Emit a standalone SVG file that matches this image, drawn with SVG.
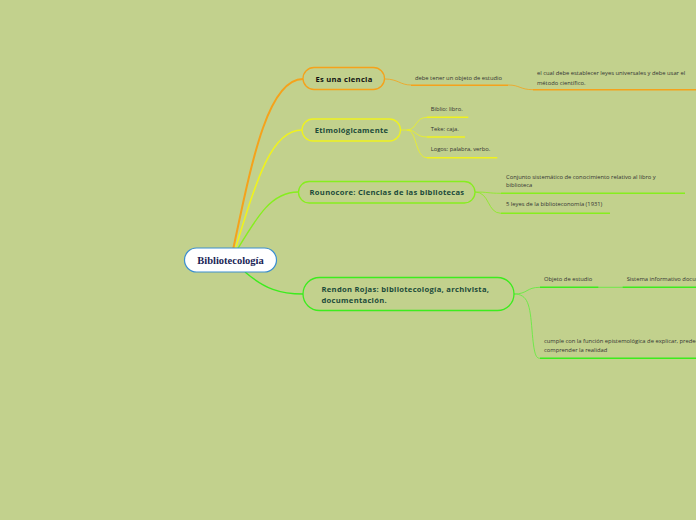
<svg xmlns="http://www.w3.org/2000/svg" width="696" height="520" viewBox="0 0 696 520">
<style>
.bg{fill:#C2D18D}
.main{fill:#C2D18D;stroke-width:1.3}
.lbl{font-family:"Open Sans","Noto Sans",sans-serif;font-weight:bold;font-size:7.6px;fill:#1B4A3A;letter-spacing:0.3px}
.sm{font-family:"Open Sans","Noto Sans",sans-serif;font-size:5.8px;fill:#333333}
.con{fill:none}
</style>
<rect class="bg" x="0" y="0" width="696" height="520"/>
<g id="connectors">
  <path class="con" d="M233,250 C252,160 268,79 303,79" stroke="#F5A21B" stroke-width="2"/>
  <path class="con" d="M235,250 C258,175 272,130 302,130" stroke="#EFF21E" stroke-width="1.6"/>
  <path class="con" d="M237,250 C258,215 272,192 298,192" stroke="#86EE1E" stroke-width="1.4"/>
  <path class="con" d="M245,272 C265,289 280,294 303,294" stroke="#3CEC1E" stroke-width="1.4"/>
  <path class="con" d="M385,79 C398,79 400,85 411,85" stroke="#F5A21B" stroke-width="0.8"/>
  <path class="con" d="M508,85 C520,85 520,89.7 533,89.7" stroke="#F5A21B" stroke-width="0.8"/>
  <path class="con" d="M401,130 L407,130 C417,130 415,117.3 427,117.3" stroke="#EFF21E" stroke-width="0.8"/>
  <path class="con" d="M407,130 C417,130 415,137 427,137" stroke="#EFF21E" stroke-width="0.8"/>
  <path class="con" d="M407,130 C417,130 415,157.7 427,157.7" stroke="#EFF21E" stroke-width="0.8"/>
  <path class="con" d="M475,192 C488,192 488,193.3 501,193.3" stroke="#86EE1E" stroke-width="0.8"/>
  <path class="con" d="M475,192 C490,192 487,213.3 501,213.3" stroke="#86EE1E" stroke-width="0.8"/>
  <path class="con" d="M514,294 C528,294 526,287.3 540,287.3" stroke="#5CEE3A" stroke-width="0.8"/>
  <path class="con" d="M598,287.3 L623,287.3" stroke="#5CEE3A" stroke-width="0.8"/>
  <path class="con" d="M514,294 C528,294 530,305 532,330 C534,355 536,358.3 540,358.3" stroke="#5CEE3A" stroke-width="0.8"/>
</g>
<g id="n-central">
  <rect x="184.5" y="248" width="92" height="24" rx="12" fill="#FFFFFF" stroke="#3C8FD0" stroke-width="1.2"/>
  <text x="230.5" y="263.5" text-anchor="middle" font-family="'Liberation Serif',serif" font-weight="bold" font-size="10.5px" fill="#1A2456">Bibliotecología</text>
</g>
<g id="n-ciencia">
  <rect class="main" x="303" y="67.5" width="81.5" height="22" rx="11" stroke="#F5A21B"/>
  <text class="lbl" x="344" y="81.5" text-anchor="middle" style="fill:#111">Es una ciencia</text>
</g>
<g id="n-etim">
  <rect class="main" x="302" y="119" width="98.5" height="22" rx="11" stroke="#EFF21E"/>
  <text class="lbl" x="351.5" y="133" text-anchor="middle">Etimológicamente</text>
</g>
<g id="n-rounocore">
  <rect class="main" x="298.5" y="181.5" width="176.5" height="21.5" rx="10.7" stroke="#86EE1E"/>
  <text class="lbl" x="387" y="195" text-anchor="middle">Rounocore: Ciencias de las bibliotecas</text>
</g>
<g id="n-rendon">
  <rect class="main" x="303" y="277.5" width="211" height="33" rx="16.5" stroke="#3CEC1E"/>
  <text class="lbl" x="321.5" y="291.5">Rendon Rojas: bibliotecología, archivista,</text>
  <text class="lbl" x="321.5" y="302.5">documentación.</text>
</g>
<g id="n-objeto1">
  <text class="sm" x="415" y="79.5">debe tener un objeto de estudio</text>
  <line x1="411" y1="85.3" x2="508" y2="85.3" stroke="#F5A21B" stroke-width="1.6"/>
</g>
<g id="n-leyes">
  <text class="sm" x="537" y="75">el cual debe establecer leyes universales y debe usar el</text>
  <text class="sm" x="537" y="84.5">método científico.</text>
  <line x1="533" y1="89.7" x2="696" y2="89.7" stroke="#F5A21B" stroke-width="1.6"/>
</g>
<g id="n-biblio">
  <text class="sm" x="430.7" y="111">Biblio: libro.</text>
  <line x1="427" y1="117.3" x2="468.3" y2="117.3" stroke="#EFF21E" stroke-width="1.6"/>
</g>
<g id="n-teke">
  <text class="sm" x="430.7" y="131">Teke: caja.</text>
  <line x1="427" y1="137" x2="465" y2="137" stroke="#EFF21E" stroke-width="1.6"/>
</g>
<g id="n-logos">
  <text class="sm" x="430.7" y="151">Logos: palabra, verbo.</text>
  <line x1="427" y1="157.7" x2="497.3" y2="157.7" stroke="#EFF21E" stroke-width="1.6"/>
</g>
<g id="n-conjunto">
  <text class="sm" x="506" y="179">Conjunto sistemático de conocimiento relativo al libro y</text>
  <text class="sm" x="506" y="187">biblioteca</text>
  <line x1="501" y1="193.3" x2="685" y2="193.3" stroke="#86EE1E" stroke-width="1.6"/>
</g>
<g id="n-5leyes">
  <text class="sm" x="506" y="206">5 leyes de la biblioteconomía (1931)</text>
  <line x1="501" y1="213.3" x2="610" y2="213.3" stroke="#86EE1E" stroke-width="1.6"/>
</g>
<g id="n-objeto2">
  <text class="sm" x="544" y="281">Objeto de estudio</text>
  <line x1="540" y1="287.3" x2="598.3" y2="287.3" stroke="#3CEC1E" stroke-width="1.6"/>
</g>
<g id="n-sistema">
  <text class="sm" x="626.7" y="281">Sistema informativo documental</text>
  <line x1="622.7" y1="287.3" x2="696" y2="287.3" stroke="#3CEC1E" stroke-width="1.6"/>
</g>
<g id="n-cumple">
  <text class="sm" x="544" y="343">cumple con la función epistemológica de explicar, predecir y</text>
  <text class="sm" x="544" y="352">comprender  la realidad</text>
  <line x1="540" y1="358.3" x2="696" y2="358.3" stroke="#3CEC1E" stroke-width="1.6"/>
</g>
</svg>
